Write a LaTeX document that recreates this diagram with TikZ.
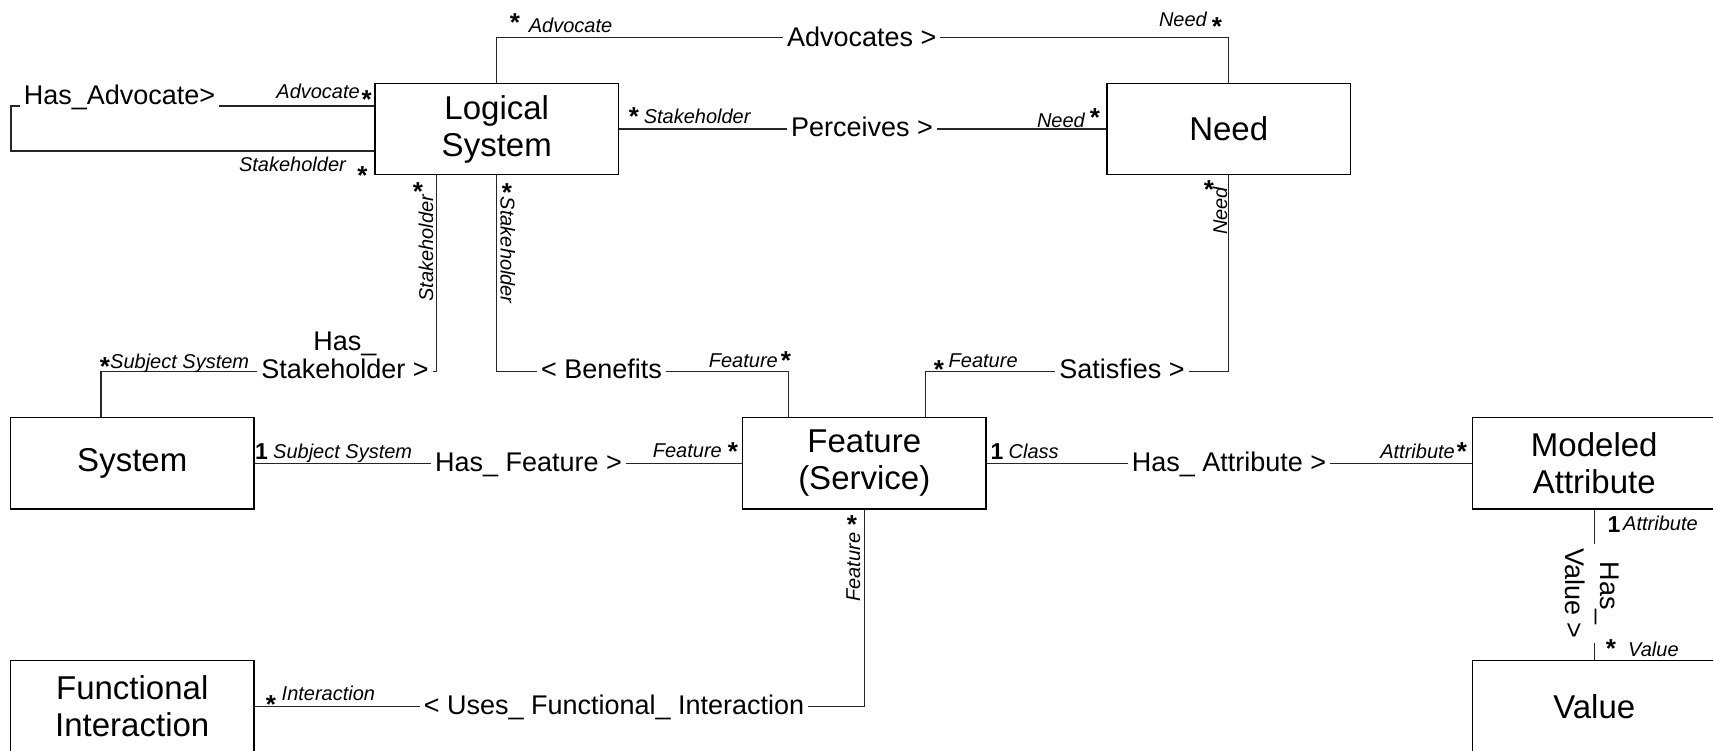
\documentclass[tikz,border=0pt]{standalone}
\usepackage{fontspec}
\setmainfont{Liberation Sans}
\usetikzlibrary{calc}

% font sizes for class names, association names, role names and multiplicities
\newcommand\clsfont{\fontsize{33}{37}\selectfont}
\newcommand\relfont{\fontsize{27}{29.5}\selectfont}
\newcommand\relvfont{\fontsize{27}{35}\selectfont}
\newcommand\rolefont{\fontsize{20}{24}\selectfont\itshape}
\newcommand\multfont{\fontsize{26}{26}\selectfont\bfseries}
\newcommand\onefont{\fontsize{23}{26}\selectfont\bfseries}

\begin{document}
\begin{tikzpicture}[x=1pt,y=-1pt,
  cls/.style={draw=black, line width=1.3pt, minimum width=243.5pt,
    minimum height=91.5pt, inner sep=0pt, align=center, font=\clsfont},
  conn/.style={draw=black!85, line width=1.1pt},
  rel/.style={fill=white, inner xsep=4pt, inner ysep=2pt, font=\relfont,
    text height=19.3pt, text depth=0pt},
  relv/.style={fill=white, inner xsep=4pt, inner ysep=0pt, font=\relvfont,
    align=center},
  role/.style={inner sep=0pt, font=\rolefont},
  mult/.style={anchor=base, inner sep=0pt, font=\multfont, yshift=-17pt},
  one/.style={anchor=base, inner sep=0pt, font=\onefont}]

\useasboundingbox (0,0) rectangle (1713,751);
\fill[white] (0,0) rectangle (1713,751);
\clip (0,0) rectangle (1713,751);

% classes
\node[cls] (LS)   at (496.75,129)    {Logical\\System};
\node[cls] (Need) at (1228.75,129)   {Need};
\node[cls] (Sys)  at (132.25,463.25) {System};
\node[cls] (Feat) at (864.25,463.25) {Feature\\(Service)};
\node[cls] (MA)   at (1594.25,463.25) {Modeled\\Attribute};
\node[cls] (FI)   at (132.25,706.25) {Functional\\Interaction};
\node[cls] (Val)  at (1594.25,706.25) {Value};

% routing levels
\coordinate (topY)  at (0,37.7);
\coordinate (midY)  at (0,371.7);
\coordinate (loopX) at (11,0);

% associations
\draw[conn] ($(LS.west)+(0,-23)$) coordinate (ha) -- (ha -| loopX)
  |- ($(LS.west)+(0,22)$);
\draw[conn] (LS.north) |- (Need.north |- topY) -- (Need.north);
\draw[conn] (LS.east) -- (Need.west);
\draw[conn] ($(LS.south)+(-60.25,0)$) coordinate (hs) -- (hs |- midY)
  -| ($(Sys.north)+(-31.25,0)$);
\draw[conn] (LS.south) -- (LS.south |- midY) -| ($(Feat.north)+(-75.75,0)$);
\draw[conn] (Need.south) -- (Need.south |- midY) -| ($(Feat.north)+(61.25,0)$);
\draw[conn] (Sys.east) -- (Feat.west);
\draw[conn] (Feat.east) -- (MA.west);
\draw[conn] (Feat.south) |- (FI.east);
\draw[conn] (MA.south) -- (Val.north);

% association names
\node[rel, anchor=base] (nHasAdv) at (119.5,105) {Has\_Advocate>};
\node[rel] (nAdv)  at (861.8,36.7)  {Advocates >};
\node[rel] (nPer)  at (862,126.7)   {Perceives >};
\node[rel] (nHasSt) at (345,369)    {Stakeholder >};
\node[rel] (nHasStA) at (345,340.5) {Has\_};
\node[rel] (nBen)  at (601.5,369)   {< Benefits};
\node[rel] (nSat)  at (1122,369)    {Satisfies >};
\node[rel] (nHF)   at (528.5,461.8) {Has\_ Feature >};
\node[rel] (nHA)   at (1229,461.8)  {Has\_ Attribute >};
\node[rel] (nUses) at (614,705)     {< Uses\_ Functional\_ Interaction};
\node[relv, rotate=-90] (nHV) at (1592,593.5) {Has\_\\Value >};

% role names
\node[role, anchor=base east] (r1)  at (360,98.3)    {Advocate};
\node[role, anchor=base east] (r2)  at (346,171.5)   {Stakeholder};
\node[role, anchor=base west] (r3)  at (528.6,33)    {Advocate};
\node[role, anchor=base east] (r4)  at (1207,27)     {Need};
\node[role, anchor=base west] (r5)  at (643.6,123.5) {Stakeholder};
\node[role, anchor=base east] (r6)  at (1085,128)    {Need};
\node[role, anchor=base west, rotate=90]  (r7) at (433,301.7)  {Stakeholder};
\node[role, anchor=base west, rotate=-90] (r8) at (500.5,196.7) {Stakeholder};
\node[role, anchor=base west, rotate=90]  (r9) at (1227,235)   {Need};
\node[role, anchor=base west] (r10) at (110,368)     {Subject System};
\node[role, anchor=base east] (r11) at (778,367)     {Feature};
\node[role, anchor=base west] (r12) at (948.5,367)   {Feature};
\node[role, anchor=base west] (r13) at (273,458.5)   {Subject System};
\node[role, anchor=base east] (r14) at (722,457.5)   {Feature};
\node[role, anchor=base west] (r15) at (1008.5,458.5) {Class};
\node[role, anchor=base east] (r16) at (1455,458)    {Attribute};
\node[role, anchor=base west, rotate=90] (r17) at (860,601.7) {Feature};
\node[role, anchor=base west] (r18) at (281.5,700.5) {Interaction};
\node[role, anchor=base west] (r19) at (1623,530)    {Attribute};
\node[role, anchor=base west] (r20) at (1628,656)    {Value};

% multiplicities
\node[mult] (m1)  at (366.7,91.5) {*};
\node[mult] (m2)  at (362.5,168)  {*};
\node[mult] (m3)  at (515,15)     {*};
\node[mult] (m4)  at (1217,19)    {*};
\node[mult] (m5)  at (634,109)    {*};
\node[mult] (m6)  at (1095,110)   {*};
\node[mult] (m7)  at (418,184)    {*};
\node[mult] (m8)  at (507,185)    {*};
\node[mult] (m9)  at (1209,182)   {*};
\node[mult] (m10) at (105,358)    {*};
\node[mult] (m11) at (786,352)    {*};
\node[mult] (m12) at (939,361)    {*};
\node[mult] (m13) at (733,443)    {*};
\node[mult] (m14) at (1462,443)   {*};
\node[mult] (m15) at (852,516)    {*};
\node[mult] (m16) at (271,696.5)  {*};
\node[mult] (m17) at (1611,640)   {*};
\node[one] (o1) at (261.5,459) {1};
\node[one] (o2) at (997,459)   {1};
\node[one] (o3) at (1614,532)  {1};
\end{tikzpicture}
\end{document}
